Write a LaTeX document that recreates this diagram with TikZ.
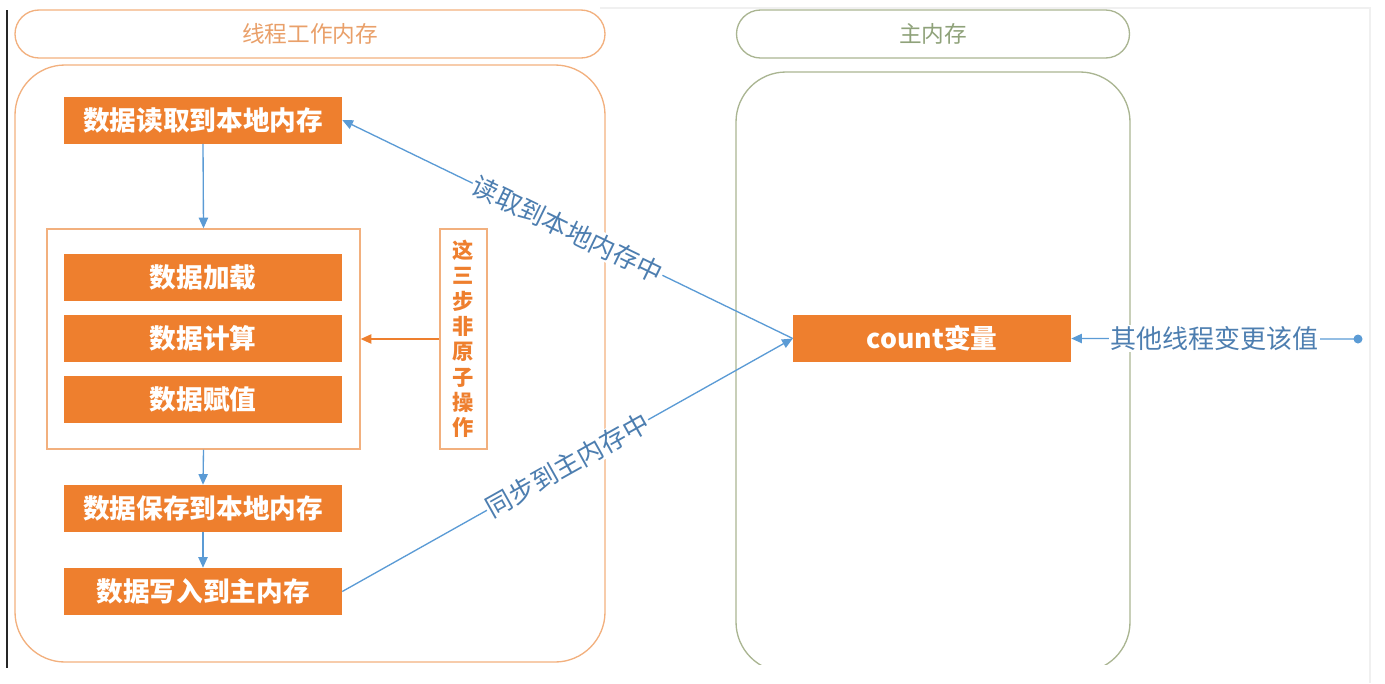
\documentclass[tikz,border=0pt]{standalone}
\usepackage{fontspec}
\setmainfont{Noto Sans CJK SC}
\usetikzlibrary{arrows.meta}
\definecolor{orfill}{HTML}{EE7F2E}
\definecolor{orline}{HTML}{F2B07E}
\definecolor{ortext}{HTML}{E9A06A}
\definecolor{grline}{HTML}{AAB592}
\definecolor{grtext}{HTML}{8FA27A}
\definecolor{bline}{HTML}{5B9BD5}
\definecolor{btext}{HTML}{4D7EB0}
\begin{document}
\begin{tikzpicture}[x=0.75pt,y=-0.75pt,
  obox/.style={fill=orfill, text=white, font=\fontsize{20}{24}\selectfont\bfseries,
    minimum width=208.5pt, minimum height=35.25pt, inner sep=0pt},
  pillL/.style={draw=orline, line width=1pt, rounded corners=18pt, text=ortext,
    font=\fontsize{17}{20}\selectfont, minimum height=36pt, inner sep=0pt},
  pillR/.style={draw=grline, line width=1pt, rounded corners=18pt, text=grtext,
    font=\fontsize{17}{20}\selectfont, minimum height=36pt, inner sep=0pt},
  framebox/.style={draw=orline, line width=1pt, inner sep=0pt},
  barrow/.style={draw=bline, line width=1pt, -{Triangle[length=8pt,width=7pt]}},
  oarrow/.style={draw=orfill, line width=1pt, -{Triangle[length=8pt,width=7pt]}},
  blabel/.style={fill=white, text=btext, font=\fontsize{19.5}{22}\selectfont, inner sep=1pt}
]
\useasboundingbox (0,0) rectangle (1385,683);
% faint page frame
\draw[black!6, line width=1pt] (600,8) -- (1370,8) -- (1370,683);
\draw[black!85, line width=1.6pt] (7,10) -- (7,668);

% headers
\node[pillL, minimum width=442.5pt] (hl) at (310,34) {线程工作内存};
\node[pillR, minimum width=294.75pt] (hr) at (933,34) {主内存};

% big boxes
\node[draw=orline, line width=1pt, rounded corners=37.5pt, minimum width=442.5pt,
  minimum height=447.75pt, inner sep=0pt] (bigL) at (310,363.5) {};
\begin{scope}
  \clip (700,60) rectangle (1200,664);
  \draw[grline, line width=1pt, rounded corners=37.5pt] (736,72) rectangle (1130,672);
\end{scope}

% left column
\node[obox] (b1) at (203,120) {数据读取到本地内存};
\node[framebox, minimum width=234.75pt, minimum height=165pt] (grp) at (203.5,339) {};
\node[obox] (b2) at (203,277.5) {数据加载};
\node[obox] (b3) at (203,338.5) {数据计算};
\node[obox] (b4) at (203,399.5) {数据赋值};
\node[obox] (b5) at (203,508.5) {数据保存到本地内存};
\node[obox] (b6) at (203,591.5) {数据写入到主内存};
\node[framebox, minimum width=35.25pt, minimum height=165pt, text=orfill,
  font=\fontsize{16}{19}\selectfont\bfseries, align=center] (vb) at (463.5,339)
  {这\\三\\步\\非\\原\\子\\操\\作};

\draw[barrow] (b1.south) -- (grp.north);
\draw[barrow] (grp.south) -- (b5.north);
\draw[barrow] (b5.south) -- (b6.north);
\draw[oarrow] (vb.west) -- (grp.east);

% main memory
\node[obox] (cnt) at (932,338.5) {count变量};
\coordinate (dot) at (1358,339);
\fill[bline] (dot) circle (4.5);

\draw[barrow] (cnt.west) -- node[blabel, sloped] {读取到本地内存中} (b1.east);
\draw[barrow] (b6.east) -- node[blabel, sloped] {同步到主内存中} (cnt.west);
\draw[barrow] (dot) -- node[blabel] {其他线程变更该值} (cnt.east);
\end{tikzpicture}
\end{document}
